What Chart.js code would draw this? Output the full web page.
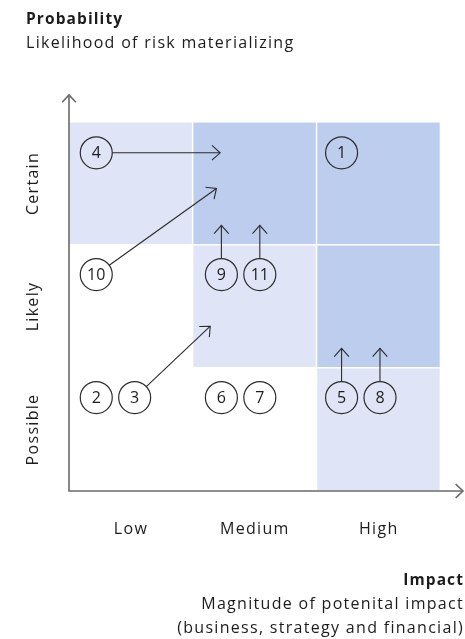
<!DOCTYPE html>
<html><head><meta charset="utf-8">
<script src="https://cdn.jsdelivr.net/npm/chart.js@4.4.0/dist/chart.umd.min.js"></script>
<style>
html,body{margin:0;padding:0;background:#fff;}
#wrap{position:relative;width:465px;height:639px;font-family:'Open Sans',sans-serif;color:#1c1c1c;}
canvas{position:absolute;left:0;top:0;}
.t{position:absolute;white-space:nowrap;line-height:20px;font-size:16px;letter-spacing:1.3px;}
.r{right:1px;text-align:right;}
</style></head><body>
<div id="wrap">
<canvas id="c" width="465" height="639"></canvas>
<div class="t" style="left:26px;top:8px;font-weight:700;font-size:15.5px;letter-spacing:1.1px;">Probability</div>
<div class="t" style="left:26px;top:32px;">Likelihood of risk materializing</div>
<div class="t r" style="top:569px;font-weight:700;font-size:15.5px;letter-spacing:1.1px;">Impact</div>
<div class="t r" style="top:593px;">Magnitude of potenital impact</div>
<div class="t r" style="top:617px;">(business, strategy and financial)</div>
</div>
<script>
const impactLabels = ['Low', 'Medium', 'High'];
const probabilityLabels = ['Possible', 'Likely', 'Certain'];
// shade level per cell; rows bottom→top (Possible, Likely, Certain), columns Low→High
const cellShade = [[0, 0, 1], [0, 1, 2], [1, 2, 2]];
const riskIds     = [1, 2, 3, 4, 5, 6, 7, 8, 9, 10, 11];
const riskImpact  = [2.2, 0.22, 0.53, 0.22, 2.2, 1.23, 1.54, 2.51, 1.23, 0.22, 1.54];
const riskProb    = [2.75, 0.76, 0.76, 2.75, 0.76, 0.76, 0.76, 0.76, 1.76, 1.76, 1.76];
const moveFrom     = [4, 10, 9, 11, 3, 5, 8];
const moveToImpact = [1.22, 1.19, 1.23, 1.54, 1.14, 2.2, 2.51];
const moveToProb   = [2.75, 2.46, 2.16, 2.16, 1.34, 1.16, 1.16];

const shadeColors = ['rgba(0,0,0,0)', '#dfe5f6', '#bccdee'];
const FONT = "'Open Sans', sans-serif";
const R = 16;

function chevron(ctx, tx, ty, ang, len, spread) {
  ctx.beginPath();
  ctx.moveTo(tx - len * Math.cos(ang - spread), ty - len * Math.sin(ang - spread));
  ctx.lineTo(tx, ty);
  ctx.lineTo(tx - len * Math.cos(ang + spread), ty - len * Math.sin(ang + spread));
  ctx.stroke();
}

const matrixPlugin = {
  id: 'matrix',
  beforeDatasetsDraw(chart) {
    const ctx = chart.ctx, xs = chart.scales.x, ys = chart.scales.y;
    ctx.save();
    for (let r = 0; r < cellShade.length; r++) {
      for (let c = 0; c < cellShade[r].length; c++) {
        const lvl = cellShade[r][c];
        if (!lvl) continue;
        const x0 = xs.getPixelForValue(c), x1 = xs.getPixelForValue(c + 1);
        const y0 = ys.getPixelForValue(r + 1), y1 = ys.getPixelForValue(r);
        ctx.fillStyle = shadeColors[lvl];
        ctx.fillRect(x0 + 0.5, y0 + 0.5, x1 - x0 - 1.5, y1 - y0 - 1.5);
      }
    }
    ctx.restore();
  },
  afterDatasetsDraw(chart) {
    const ctx = chart.ctx, xs = chart.scales.x, ys = chart.scales.y;
    const a = chart.chartArea;
    ctx.save();
    // axes
    ctx.strokeStyle = '#6a6a6a';
    ctx.lineWidth = 1.6;
    ctx.beginPath();
    ctx.moveTo(a.left, a.top);
    ctx.lineTo(a.left, a.bottom);
    ctx.lineTo(a.right, a.bottom);
    ctx.stroke();
    chevron(ctx, a.left, a.top, -Math.PI / 2, 10, Math.PI / 4.2);
    chevron(ctx, a.right, a.bottom, 0, 10, Math.PI / 4.2);
    // movement arrows
    ctx.strokeStyle = '#2b2b2b';
    ctx.lineWidth = 1.1;
    for (let i = 0; i < moveFrom.length; i++) {
      const k = riskIds.indexOf(moveFrom[i]);
      const cx = xs.getPixelForValue(riskImpact[k]), cy = ys.getPixelForValue(riskProb[k]);
      const tx = xs.getPixelForValue(moveToImpact[i]), ty = ys.getPixelForValue(moveToProb[i]);
      const ang = Math.atan2(ty - cy, tx - cx);
      ctx.beginPath();
      ctx.moveTo(cx + R * Math.cos(ang), cy + R * Math.sin(ang));
      ctx.lineTo(tx, ty);
      ctx.stroke();
      chevron(ctx, tx, ty, ang, 11, Math.PI / 4.3);
    }
    // risk numbers
    ctx.fillStyle = '#1c1c1c';
    ctx.font = '16px ' + FONT;
    ctx.textAlign = 'center';
    ctx.textBaseline = 'middle';
    for (let k = 0; k < riskIds.length; k++) {
      ctx.fillText(String(riskIds[k]), xs.getPixelForValue(riskImpact[k]), ys.getPixelForValue(riskProb[k]) + 1);
    }
    // category labels
    ctx.font = '16px ' + FONT;
    if ('letterSpacing' in ctx) ctx.letterSpacing = '1.3px';
    impactLabels.forEach((l, i) => {
      ctx.fillText(l, xs.getPixelForValue(i + 0.5), a.bottom + 38);
    });
    probabilityLabels.forEach((l, i) => {
      ctx.save();
      ctx.translate(33, ys.getPixelForValue(i + 0.5));
      ctx.rotate(-Math.PI / 2);
      ctx.fillText(l, 0, 0);
      ctx.restore();
    });
    ctx.restore();
  }
};

new Chart(document.getElementById('c'), {
  type: 'scatter',
  data: {
    datasets: [{
      data: riskIds.map((id, k) => ({ x: riskImpact[k], y: riskProb[k] })),
      pointRadius: R,
      pointHoverRadius: R,
      backgroundColor: 'rgba(0,0,0,0)',
      borderColor: '#2b2b2b',
      borderWidth: 1.2
    }]
  },
  options: {
    responsive: false,
    animation: false,
    events: [],
    layout: { autoPadding: false, padding: { left: 69, right: 2, top: 95, bottom: 148 } },
    plugins: { legend: { display: false }, tooltip: { enabled: false } },
    scales: {
      x: { type: 'linear', min: 0, max: 3.18, display: false },
      y: { type: 'linear', min: 0, max: 3.22, display: false }
    }
  },
  plugins: [matrixPlugin]
});
</script>
</body></html>
